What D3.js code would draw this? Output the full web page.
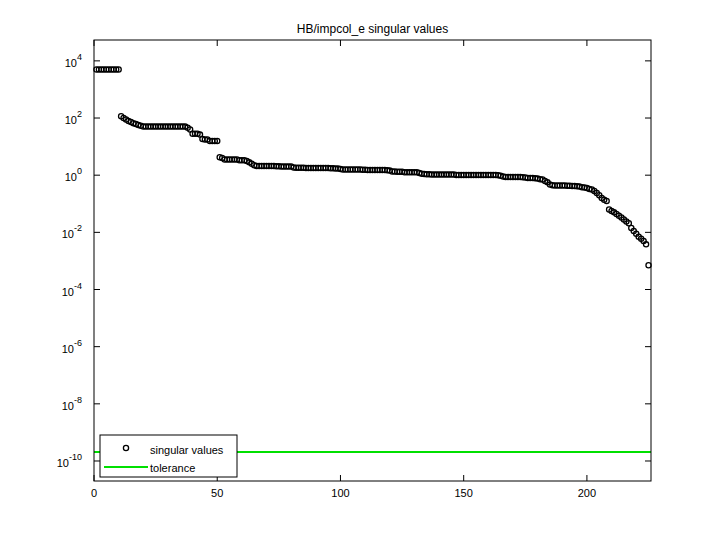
<!DOCTYPE html>
<html><head><meta charset="utf-8">
<script src="https://cdn.jsdelivr.net/npm/d3@7"></script>
<style>body{margin:0;background:#fff}text{font-family:"Liberation Sans",Arial,sans-serif}</style>
</head><body><div id="chart"></div>
<script>
// log10 of singular values, index 1..225
const logSv = [
3.7,3.7,3.7,3.7,3.7,3.7,3.7,3.7,3.7,3.7,
2.06,2.0,1.95,1.9,1.86,1.82,1.79,1.76,1.73,1.7,
1.7,1.7,1.7,1.7,1.7,1.7,1.7,1.7,1.7,1.7,
1.7,1.7,1.7,1.7,1.7,1.7,1.7,1.66,1.6,1.45,
1.45,1.45,1.42,1.27,1.25,1.25,1.2,1.2,1.2,1.2,
0.63,0.6,0.55,0.55,0.55,0.55,0.55,0.55,0.52,0.52,
0.52,0.5,0.45,0.4,0.35,0.32,0.32,0.32,0.32,0.32,
0.32,0.32,0.32,0.31,0.31,0.3,0.3,0.3,0.3,0.3,
0.27,0.26,0.26,0.26,0.26,0.25,0.25,0.25,0.25,0.25,
0.25,0.25,0.25,0.25,0.25,0.24,0.24,0.23,0.23,0.22,
0.2,0.2,0.2,0.2,0.2,0.2,0.2,0.2,0.19,0.19,
0.18,0.18,0.18,0.18,0.18,0.18,0.18,0.18,0.17,0.16,
0.13,0.13,0.12,0.12,0.12,0.1,0.1,0.1,0.1,0.1,
0.1,0.08,0.05,0.04,0.03,0.03,0.02,0.02,0.02,0.02,
0.02,0.02,0.02,0.02,0.02,0.02,0.01,0.01,0.01,0.01,
0.01,0.01,0.01,0.01,0.01,0.01,0.01,0.01,0.01,0.01,
0.01,0.01,0.01,0.0,-0.02,-0.05,-0.06,-0.06,-0.06,-0.06,
-0.06,-0.06,-0.06,-0.07,-0.08,-0.1,-0.1,-0.1,-0.11,-0.12,
-0.14,-0.15,-0.2,-0.25,-0.33,
-0.35,-0.36,-0.36,-0.36,-0.36,-0.36,-0.37,-0.37,-0.38,-0.38,
-0.39,-0.4,-0.42,-0.43,-0.45,-0.48,
-0.5,-0.55,-0.62,-0.7,-0.8,-0.86,-0.9,
-1.2,-1.25,-1.3,-1.36,-1.42,-1.48,-1.55,-1.62,-1.68,-1.85,
-1.95,-2.05,-2.15,-2.22,-2.3,-2.42,-3.15
];
const sv = logSv.map(v => Math.pow(10, v));
const tolerance = 2.05e-10;
const xTicks = [0, 50, 100, 150, 200];
const yExps = [4, 2, 0, -2, -4, -6, -8, -10];
const titleText = "HB/impcol_e singular values";
const legendLabels = ["singular values", "tolerance"];

const W = 720, H = 540;
const M = {left: 94, right: 69, top: 40, bottom: 59};
const svg = d3.select("#chart").append("svg").attr("width", W).attr("height", H);

const x = d3.scaleLinear().domain([0, 226]).range([M.left, W - M.right]);
const y = d3.scaleLog().domain([Math.pow(10, -10.7), Math.pow(10, 4.73)]).range([H - M.bottom, M.top]);

svg.append("text").attr("x", (M.left + W - M.right) / 2).attr("y", 33)
  .attr("text-anchor", "middle").attr("font-size", 12).text(titleText);

// ticks (inside, mirrored)
const tk = 6;
const g = svg.append("g").attr("stroke", "#000").attr("stroke-width", 1);
xTicks.forEach(t => {
  g.append("line").attr("x1", x(t)).attr("x2", x(t)).attr("y1", H - M.bottom).attr("y2", H - M.bottom - tk);
  g.append("line").attr("x1", x(t)).attr("x2", x(t)).attr("y1", M.top).attr("y2", M.top + tk);
  svg.append("text").attr("x", x(t)).attr("y", H - M.bottom + 16).attr("text-anchor", "middle")
    .attr("font-size", 11).text(t);
});
yExps.forEach(e => {
  const yy = y(Math.pow(10, e));
  g.append("line").attr("x1", M.left).attr("x2", M.left + tk).attr("y1", yy).attr("y2", yy);
  g.append("line").attr("x1", W - M.right).attr("x2", W - M.right - tk).attr("y1", yy).attr("y2", yy);
  const t = svg.append("text").attr("x", M.left - 12).attr("y", yy + 6).attr("text-anchor", "end").attr("font-size", 11);
  t.append("tspan").text("10");
  t.append("tspan").attr("dy", -7).attr("font-size", 9).text(e);
});

// tolerance line
svg.append("line").attr("x1", x(0)).attr("x2", x(226)).attr("y1", y(tolerance)).attr("y2", y(tolerance))
  .attr("stroke", "#00e000").attr("stroke-width", 2);

// points
svg.append("g").selectAll("circle").data(sv).enter().append("circle")
  .attr("cx", (d, i) => x(i + 1)).attr("cy", d => y(d)).attr("r", 2.6)
  .attr("fill", "none").attr("stroke", "#000").attr("stroke-width", 1.3);

svg.append("rect").attr("x", M.left).attr("y", M.top).attr("width", W - M.left - M.right)
  .attr("height", H - M.top - M.bottom).attr("fill", "none").attr("stroke", "#000");

// legend
const lg = svg.append("g");
lg.append("rect").attr("x", 100).attr("y", 435).attr("width", 137).attr("height", 42)
  .attr("fill", "#fff").attr("stroke", "#000");
lg.append("circle").attr("cx", 126).attr("cy", 448).attr("r", 2.6).attr("fill", "none")
  .attr("stroke", "#000").attr("stroke-width", 1.3);
lg.append("line").attr("x1", 104).attr("x2", 148).attr("y1", 467).attr("y2", 467)
  .attr("stroke", "#00e000").attr("stroke-width", 2);
legendLabels.forEach((l, i) => lg.append("text").attr("x", 150).attr("y", 454 + i * 18)
  .attr("font-size", 11).text(l));
</script></body></html>
